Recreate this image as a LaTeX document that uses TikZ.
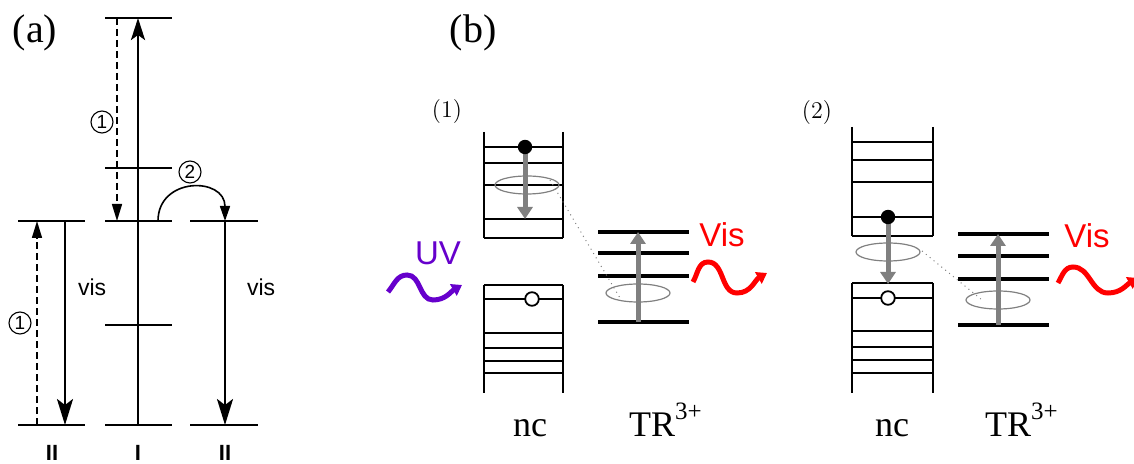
\documentclass[tikz,border=0pt]{standalone}
\usepackage{fontspec}
\setsansfont{Liberation Sans}
\newfontfamily\timesfont{Liberation Serif}
\usetikzlibrary{arrows.meta,positioning}

\definecolor{uvpurple}{RGB}{102,0,204}
\definecolor{visred}{RGB}{255,0,0}
\definecolor{orbitgray}{RGB}{128,128,128}

\newcommand{\ionname}{TR\raisebox{0.5em}{\fontsize{12.5}{12.5}\selectfont 3+}}

\begin{document}
\begin{tikzpicture}[
    x=0.5pt, y=-0.5pt,
    level/.style={
        line width=0.65pt
    },
    mainline/.style={
        line width=1.4pt,
        -{Stealth[length=11pt,width=7pt,inset=2.5pt]}
    },
    pumparrow/.style={
        line width=0.75pt,
        dash pattern=on 3.5pt off 2pt,
        -{Triangle[length=8.5pt,width=5pt]}
    },
    visarrow/.style={
        line width=1.2pt,
        -{Stealth[length=13pt,width=8pt,inset=3pt]}
    },
    hoparrow/.style={
        line width=0.8pt,
        -{Triangle[length=7.5pt,width=5pt]}
    },
    stepnum/.style={
        circle,
        draw,
        line width=0.55pt,
        inner sep=0pt,
        minimum size=11pt,
        font=\sffamily\fontsize{9.5}{9.5}\selectfont
    },
    levellabel/.style={font=\sffamily\bfseries\fontsize{11}{11}\selectfont, anchor=base},
    vislabel/.style={font=\sffamily\fontsize{11.5}{11.5}\selectfont, anchor=west},
    panellabel/.style={font=\timesfont\fontsize{20}{20}\selectfont},
    caselabel/.style={font=\fontsize{12}{12}\selectfont},
    specieslabel/.style={font=\timesfont\fontsize{18}{18}\selectfont, anchor=base},
    photonlabel/.style={font=\sffamily\fontsize{16.5}{16.5}\selectfont},
    band/.style={
        line width=1pt
    },
    ionlevel/.style={
        line width=2pt
    },
    relax/.style={
        draw=orbitgray,
        line width=2.5pt,
        -{Triangle[length=6pt,width=7.5pt]}
    },
    orbit/.style={
        draw=orbitgray,
        line width=0.6pt
    },
    transfer/.style={
        draw=orbitgray,
        line width=0.5pt,
        dotted
    },
    photon/.style={
        line width=2.5pt,
        -{Triangle[length=5pt,width=6.5pt]}
    }
]

\useasboundingbox (0,0) rectangle (1134,464);

% =========================
% (a) level scheme
% =========================

\node[panellabel] (labela) at (35,33) {(a)};

\draw[level] (105,18) -- (172,18);
\draw[level] (105,168) -- (172,168);
\draw[level] (105,221) -- (172,221);
\draw[level] (105,325) -- (172,325);
\draw[level] (105,425) -- (172,425);

\draw[level] (18,221) -- (85,221);
\draw[level] (18,425) -- (85,425);

\draw[level] (190,221) -- (258,221);
\draw[level] (190,425) -- (258,425);

\coordinate (Ibot) at (138,425);
\coordinate (Itop) at (138,18);
\coordinate (Ipumptop) at (117,18);
\coordinate (Ipumpbot) at (117,221);
\coordinate (IIlpumpbot) at (37,425);
\coordinate (IIlpumptop) at (37,221);
\coordinate (IIlvistop) at (65,221);
\coordinate (IIlvisbot) at (65,425);
\coordinate (hopstart) at (158,221);
\coordinate (hopend) at (225,221);
\coordinate (IIrvisbot) at (225,425);

\draw[mainline] (Ibot) -- (Itop);
\draw[pumparrow] (Ipumptop) -- (Ipumpbot);
\draw[pumparrow] (IIlpumpbot) -- (IIlpumptop);
\draw[visarrow] (IIlvistop) -- (IIlvisbot);
\draw[visarrow] (hopend) -- (IIrvisbot);
\draw[hoparrow] (hopstart) to[out=90, in=90, looseness=1.7] (hopend);

\node[stepnum] (stepup) at (102,122) {1};
\node[stepnum] (steplow) at (20,323) {1};
\node[stepnum] (stephop) at (190,172) {2};

\node[vislabel] (visleft) at (71,287) {vis};
\node[vislabel] (visright) at (240,287) {vis};

\node[levellabel] (IIleft) at (52,460) {II};
\node[levellabel] (Imid) at (138,460) {I};
\node[levellabel] (IIright) at (225,460) {II};

% =========================
% (b) case (1)
% =========================

\node[panellabel] (labelb) at (473,33) {(b)};
\node[caselabel] (caseone) at (447,112) {(1)};

% conduction band
\draw[band] (484,132) -- (484,238);
\draw[band] (563,132) -- (563,238);
\draw[band] (484,147) -- (563,147);
\draw[band] (484,163) -- (563,163);
\draw[band] (484,185) -- (563,185);
\draw[band] (484,219) -- (563,219);
\draw[band] (484,238) -- (563,238);

% valence band
\draw[band] (484,285) -- (484,393);
\draw[band] (563,285) -- (563,393);
\draw[band] (484,285) -- (563,285);
\draw[band] (484,299) -- (563,299);
\draw[band] (484,333) -- (563,333);
\draw[band] (484,348) -- (563,348);
\draw[band] (484,361) -- (563,361);
\draw[band] (484,373) -- (563,373);

% TR levels
\draw[ionlevel] (598,232) -- (689,232);
\draw[ionlevel] (598,253) -- (689,253);
\draw[ionlevel] (598,276) -- (689,276);
\draw[ionlevel] (598,322) -- (689,322);

\coordinate (elecone) at (525,147);
\coordinate (relaxone) at (525,219);
\coordinate (holeone) at (532,299);
\coordinate (trbotone) at (638,322);
\coordinate (trtopone) at (638,232);
\coordinate (xferfromone) at (550,180);
\coordinate (xfertoone) at (620,298);

\draw[orbit] (527,185) ellipse [x radius=16pt, y radius=4.5pt];
\draw[orbit] (638,293) ellipse [x radius=16pt, y radius=4.5pt];
\draw[transfer] (xferfromone) -- (xfertoone);
\draw[relax] (elecone) -- (relaxone);
\draw[relax] (trbotone) -- (trtopone);
\fill (elecone) circle [radius=3.6pt];
\draw[line width=0.9pt, fill=white] (holeone) circle [radius=3.4pt];

\coordinate (uvstart) at (388,292);
\coordinate (uvend) at (462,285);
\draw[photon, uvpurple] (uvstart) to[out=50, in=180] (407,275)
    to[out=0, in=180] (433,300) to[out=0, in=210] (uvend);
\node[photonlabel, uvpurple] (uvlabel) at (438,253) {UV};

\coordinate (visstartone) at (693,282);
\coordinate (visendone) at (767,273);
\draw[photon, visred] (visstartone) to[out=60, in=180] (708,262)
    to[out=0, in=180] (737,293) to[out=0, in=210] (visendone);
\node[photonlabel, visred] (vislabelone) at (722,235) {Vis};

\node[specieslabel] (ncone) at (530,437) {nc};
\node[specieslabel, anchor=base west] (trone) at (622,437) {\ionname};

% =========================
% (b) case (2)
% =========================

\node[caselabel] (casetwo) at (817,113) {(2)};

% conduction band
\draw[band] (852,127) -- (852,236);
\draw[band] (933,127) -- (933,236);
\draw[band] (852,142) -- (933,142);
\draw[band] (852,160) -- (933,160);
\draw[band] (852,182) -- (933,182);
\draw[band] (852,217) -- (933,217);
\draw[band] (852,236) -- (933,236);

% valence band
\draw[band] (852,283) -- (852,393);
\draw[band] (933,283) -- (933,393);
\draw[band] (852,283) -- (933,283);
\draw[band] (852,298) -- (933,298);
\draw[band] (852,331) -- (933,331);
\draw[band] (852,347) -- (933,347);
\draw[band] (852,360) -- (933,360);
\draw[band] (852,373) -- (933,373);

% TR levels
\draw[ionlevel] (958,234) -- (1049,234);
\draw[ionlevel] (958,256) -- (1049,256);
\draw[ionlevel] (958,279) -- (1049,279);
\draw[ionlevel] (958,325) -- (1049,325);

\coordinate (electwo) at (888,217);
\coordinate (holetwo) at (888,298);
\coordinate (relaxtwo) at (888,284);
\coordinate (trbottwo) at (998,325);
\coordinate (trtoptwo) at (998,234);
\coordinate (xferfromtwo) at (922,251);
\coordinate (xfertotwo) at (982,300);

\draw[orbit] (888,252) ellipse [x radius=16pt, y radius=4.5pt];
\draw[orbit] (998,300) ellipse [x radius=16pt, y radius=4.5pt];
\draw[transfer] (xferfromtwo) -- (xfertotwo);
\draw[relax] (electwo) -- (relaxtwo);
\draw[relax] (trbottwo) -- (trtoptwo);
\fill (electwo) circle [radius=3.6pt];
\draw[line width=0.9pt, fill=white] (holetwo) circle [radius=3.4pt];

\coordinate (visstarttwo) at (1058,283);
\coordinate (visendtwo) at (1138,278);
\draw[photon, visred] (visstarttwo) to[out=60, in=180] (1073,267)
    to[out=0, in=180] (1108,293) to[out=0, in=210] (visendtwo);
\node[photonlabel, visred] (vislabeltwo) at (1087,236) {Vis};

\node[specieslabel] (nctwo) at (892,437) {nc};
\node[specieslabel, anchor=base west] (trtwo) at (978,437) {\ionname};

\end{tikzpicture}
\end{document}
